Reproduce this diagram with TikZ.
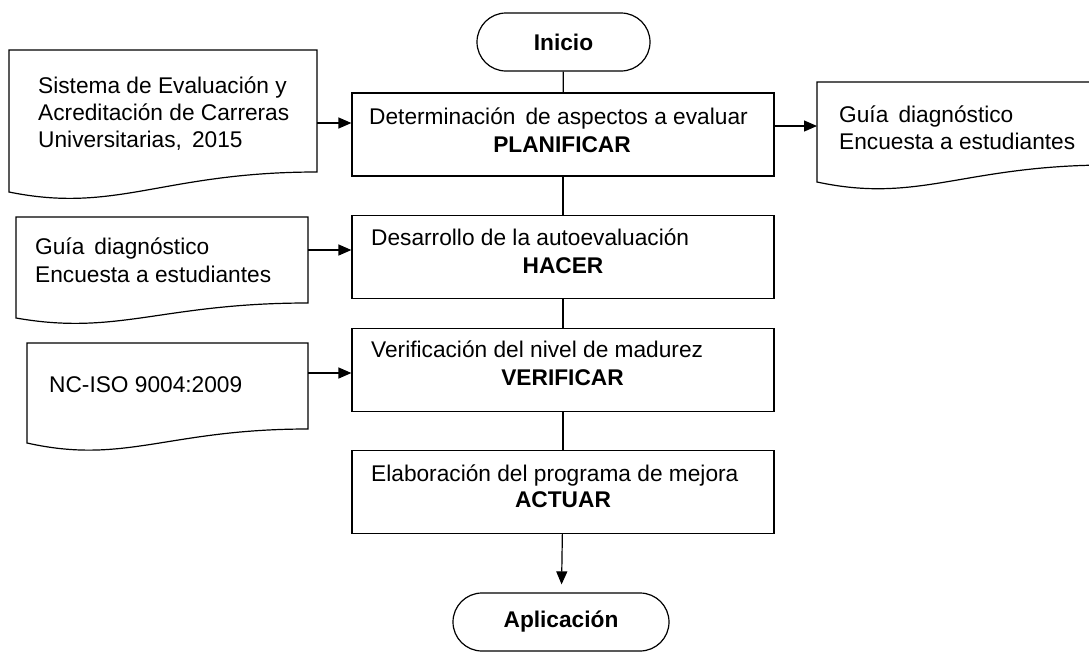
\documentclass[tikz,border=0pt]{standalone}
\usepackage{fontspec}
\setmainfont{Liberation Sans}
\usetikzlibrary{arrows.meta,calc}
\newcommand\fs{\fontsize{22.7}{27.5}\selectfont}
\tikzset{
  ln/.style={line width=1.2pt, draw=black},
  arr/.style={ln, -{Triangle[length=13pt,width=11pt]}},
  procbox/.style={draw, line width=1.2pt, minimum width=422pt, minimum height=83pt, inner sep=0pt},
  term/.style={draw, line width=1.2pt, rounded corners=29pt, minimum height=58pt, inner sep=0pt, font=\bfseries\fs},
  docnode/.style={inner sep=0pt, outer sep=0pt},
  txt/.style={anchor=base west, inner sep=0pt, font=\fs},
  btxt/.style={anchor=base, inner sep=0pt, font=\bfseries\fs},
}
\newcommand\docpath[3]{%
  \draw[ln] (#1.south east) .. controls ($(#1.south west)!0.5!(#1.south east)$) and ($(#1.south west)!0.35!(#1.south east)+(0,#2+#3)$) .. ($(#1.south west)+(0,#2)$) -- (#1.north west) -- (#1.north east) -- cycle;}
\begin{document}
\begin{tikzpicture}[x=1pt,y=-1pt]
\useasboundingbox (0,0) rectangle (1089,656);
\clip (0,0) rectangle (1089,656);
\fill[white] (0,0) rectangle (1089,656);

% terminators
\node[term, minimum width=173pt] (ini) at (563.5,42) {Inicio};
\node[term, minimum width=216pt] (apl) at (561,622) {Aplicación};

% process boxes
\node[procbox] (plan) at (563,134.5) {};
\node[procbox] (hacer) at (563,257) {};
\node[procbox] (verif) at (563,370) {};
\node[procbox] (actuar) at (563,492) {};

\node[txt] (plan1) at (369,124) {Determinación\, de aspectos a evaluar};
\node[btxt] (plan2) at (562,152.5) {PLANIFICAR};
\node[txt] (hacer1) at (371,245) {Desarrollo de la autoevaluación};
\node[btxt] (hacer2) at (563,273) {HACER};
\node[txt] (verif1) at (371,357) {Verificación del nivel de madurez};
\node[btxt] (verif2) at (562.5,385) {VERIFICAR};
\node[txt] (act1) at (371,481) {Elaboración del programa de mejora};
\node[btxt] (act2) at (563,507) {ACTUAR};

% documents
\node[docnode, minimum width=308pt, minimum height=122pt] (d1) at (163,111) {};
\docpath{d1}{20}{22}
\node[docnode, minimum width=292pt, minimum height=86pt] (d2) at (162,260) {};
\docpath{d2}{15}{18}
\node[docnode, minimum width=281pt, minimum height=86pt] (d3) at (167.5,386) {};
\docpath{d3}{14}{22}
\node[docnode, minimum width=293pt, minimum height=83pt] (d4) at (963.5,123.5) {};
\docpath{d4}{17}{22}

\node[txt] (d1a) at (38,93) {Sistema de Evaluación y};
\node[txt] (d1b) at (38,120) {Acreditación de Carreras};
\node[txt] (d1c) at (38,147) {Universitarias,\, 2015};
\node[txt] (d2a) at (35,254) {Guía\, diagnóstico};
\node[txt] (d2b) at (35,282) {Encuesta a estudiantes};
\node[txt] (d3a) at (49,392) {NC-ISO 9004:2009};
\node[txt] (d4a) at (839,122) {Guía\, diagnóstico};
\node[txt] (d4b) at (839,149) {Encuesta a estudiantes};

% vertical connectors
\draw[ln] (ini) -- (plan);
\draw[ln] (plan) -- (hacer);
\draw[ln] (hacer) -- (verif);
\draw[ln] (verif) -- (actuar);
\draw[arr, shorten >=8pt] (actuar) -- (apl);

% horizontal arrows
\coordinate (y1) at (0,123);
\coordinate (y2) at (0,250);
\coordinate (y3) at (0,373);
\coordinate (y4) at (0,126);
\draw[arr] (y1 -| d1.east) -- (y1 -| plan.west);
\draw[arr] (y2 -| d2.east) -- (y2 -| hacer.west);
\draw[arr] (y3 -| d3.east) -- (y3 -| verif.west);
\draw[arr] (y4 -| plan.east) -- (y4 -| d4.west);
\end{tikzpicture}
\end{document}
